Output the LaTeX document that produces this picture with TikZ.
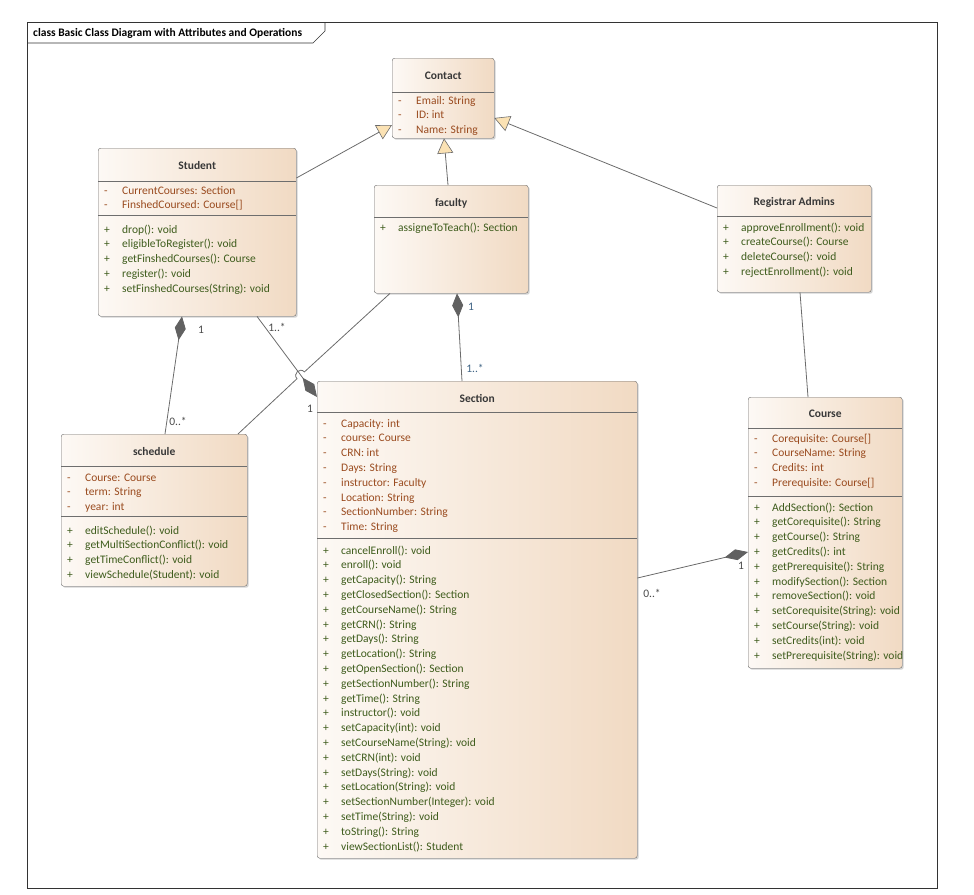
\documentclass[tikz,border=0pt]{standalone}
\usepackage{fontspec}
\setmainfont{Carlito}
\usetikzlibrary{arrows.meta,shadows}

\definecolor{boxleft}{HTML}{FDF9F5}
\definecolor{boxright}{HTML}{F1DAC3}
\definecolor{boxline}{HTML}{6E6E6E}
\definecolor{attrtext}{HTML}{9A4B1F}
\definecolor{optext}{HTML}{3E5C1C}
\definecolor{linkline}{HTML}{6B6B6B}
\definecolor{tipfill}{HTML}{FBE2B4}
\definecolor{multtext}{HTML}{4A4A4A}
\definecolor{multblue}{HTML}{3F6384}

% one compartment of a class: name, position, colour, rows
\newcommand\members[4]{\node[members, text=#3] (#1) at (#2) {\begin{tabular}[t]{@{}p{18pt}@{}l@{}}#4\end{tabular}};}

\begin{document}
\begin{tikzpicture}[
    x			= 1pt,
    y			= -1pt,
    classbox/.style	= {draw=boxline, rounded corners=2.5pt, left color=boxleft, right color=boxright,
                           anchor=north west, inner sep=0pt,
                           drop shadow={shadow xshift=1.5pt, shadow yshift=-1.5pt, opacity=0.35}},
    classname/.style	= {font=\fontsize{11.5}{13}\selectfont\bfseries, text=black!78, anchor=base, inner sep=0pt},
    members/.style	= {font=\fontsize{11.5}{14.8}\selectfont, anchor=base west, inner sep=0pt, xshift=6pt},
    sepline/.style	= {draw=boxline, line width=0.6pt},
    link/.style		= {draw=linkline, line width=0.8pt},
    gen/.style		= {link, -{Triangle[length=15pt, width=16pt, fill=tipfill, line width=0.6pt]}},
    comp/.style		= {link, -{Diamond[length=24pt, width=11pt, fill=black!62, color=black!62]}},
    compr/.style	= {link, {Diamond[length=24pt, width=11pt, fill=black!62, color=black!62]}-},
    mult/.style		= {font=\fontsize{11.5}{13}\selectfont, text=multtext, inner sep=0pt}
  ]
\useasboundingbox (0,0) rectangle (974,894);
% frame
\draw[black!80, line width=0.6pt] (27,22) rectangle (937,888);
\draw[black!80, line width=0.6pt] (27,43) -- (313,43) -- (325,31) -- (325,22);
\node[font=\fontsize{11.5}{13}\selectfont\bfseries, anchor=base west, inner sep=0pt] (frametitle) at (33,36)
  {class Basic Class Diagram with Attributes and Operations};
%
% Contact
\node[classbox, minimum width=102pt, minimum height=80pt] (contact) at (392,58) {};
\draw[sepline] (contact.west |- 0,92) -- (contact.east |- 0,92);
\node[classname] (contact-name) at (contact.north |- 0,79) {Contact};
\members{contact-attr}{contact.west |- 0,104}{attrtext}{-&Email: String\\ -&ID: int\\ -&Name: String}
%
% Student
\node[classbox, minimum width=198pt, minimum height=168pt] (student) at (98,148) {};
\draw[sepline] (student.west |- 0,181) -- (student.east |- 0,181);
\draw[sepline] (student.west |- 0,215) -- (student.east |- 0,215);
\node[classname] (student-name) at (student.north |- 0,169) {Student};
\members{student-attr}{student.west |- 0,194}{attrtext}{-&CurrentCourses: Section\\ -&FinshedCoursed: Course[]}
\members{student-ops}{student.west |- 0,233}{optext}{+&drop(): void\\ +&eligibleToRegister(): void\\
  +&getFinshedCourses(): Course\\ +&register(): void\\ +&setFinshedCourses(String): void}
%
% faculty
\node[classbox, minimum width=154pt, minimum height=108pt] (faculty) at (374,185) {};
\draw[sepline] (faculty.west |- 0,217) -- (faculty.east |- 0,217);
\node[classname] (faculty-name) at (faculty.north |- 0,206) {faculty};
\members{faculty-ops}{faculty.west |- 0,231}{optext}{+&assigneToTeach(): Section}
%
% Registrar Admins
\node[classbox, minimum width=154pt, minimum height=107pt] (registrar) at (717,185) {};
\draw[sepline] (registrar.west |- 0,216) -- (registrar.east |- 0,216);
\node[classname] (registrar-name) at (registrar.north |- 0,205) {Registrar Admins};
\members{registrar-ops}{registrar.west |- 0,231}{optext}{+&approveEnrollment(): void\\ +&createCourse(): Course\\
  +&deleteCourse(): void\\ +&rejectEnrollment(): void}
%
% schedule
\node[classbox, minimum width=186pt, minimum height=152pt] (schedule) at (61,434) {};
\draw[sepline] (schedule.west |- 0,466) -- (schedule.east |- 0,466);
\draw[sepline] (schedule.west |- 0,516) -- (schedule.east |- 0,516);
\node[classname] (schedule-name) at (schedule.north |- 0,455) {schedule};
\members{schedule-attr}{schedule.west |- 0,481}{attrtext}{-&Course: Course\\ -&term: String\\ -&year: int}
\members{schedule-ops}{schedule.west |- 0,534}{optext}{+&editSchedule(): void\\ +&getMultiSectionConflict(): void\\
  +&getTimeConflict(): void\\ +&viewSchedule(Student): void}
%
% Section
\node[classbox, minimum width=320pt, minimum height=477pt] (section) at (317,381) {};
\draw[sepline] (section.west |- 0,412) -- (section.east |- 0,412);
\draw[sepline] (section.west |- 0,538) -- (section.east |- 0,538);
\node[classname] (section-name) at (section.north |- 0,402) {Section};
\members{section-attr}{section.west |- 0,427}{attrtext}{-&Capacity: int\\ -&course: Course\\ -&CRN: int\\
  -&Days: String\\ -&instructor: Faculty\\ -&Location: String\\ -&SectionNumber: String\\ -&Time: String}
\members{section-ops}{section.west |- 0,554}{optext}{+&cancelEnroll(): void\\ +&enroll(): void\\
  +&getCapacity(): String\\ +&getClosedSection(): Section\\ +&getCourseName(): String\\ +&getCRN(): String\\
  +&getDays(): String\\ +&getLocation(): String\\ +&getOpenSection(): Section\\ +&getSectionNumber(): String\\
  +&getTime(): String\\ +&instructor(): void\\ +&setCapacity(int): void\\ +&setCourseName(String): void\\
  +&setCRN(int): void\\ +&setDays(String): void\\ +&setLocation(String): void\\
  +&setSectionNumber(Integer): void\\ +&setTime(String): void\\ +&toString(): String\\
  +&viewSectionList(): Student}
%
% Course
\node[classbox, minimum width=154pt, minimum height=271pt] (course) at (748,397) {};
\draw[sepline] (course.west |- 0,428) -- (course.east |- 0,428);
\draw[sepline] (course.west |- 0,496) -- (course.east |- 0,496);
\node[classname] (course-name) at (course.north |- 0,417) {Course};
\members{course-attr}{course.west |- 0,442}{attrtext}{-&Corequisite: Course[]\\ -&CourseName: String\\
  -&Credits: int\\ -&Prerequisite: Course[]}
\members{course-ops}{course.west |- 0,511}{optext}{+&AddSection(): Section\\ +&getCorequisite(): String\\
  +&getCourse(): String\\ +&getCredits(): int\\ +&getPrerequisite(): String\\ +&modifySection(): Section\\
  +&removeSection(): void\\ +&setCorequisite(String): void\\ +&setCourse(String): void\\
  +&setCredits(int): void\\ +&setPrerequisite(String): void}
%
% generalisations
\draw[gen] (student.east |- 0,178) -- (contact.west |- 0,125);
\draw[gen] (faculty.north -| 448,0) -- (contact.south -| 444,0);
\draw[gen] (registrar.west |- 0,208) -- (contact.east |- 0,118);
% compositions
\draw[compr] (student.south -| 182,0) -- (schedule.north -| 165,0);
\draw[comp] (student.south -| 257,0) -- (section.west |- 0,397);
\draw[compr] (faculty.south -| 457,0) -- (section.north -| 462,0);
\draw[comp] (section.east |- 0,578) -- (course.west |- 0,552);
% plain associations
\coordinate (hopa) at (304.4,371.9);
\coordinate (hopb) at (297.0,378.7);
\draw[link] (faculty.south -| 390,0) -- (hopa) .. controls (299.9,367.0) and (292.5,373.8) .. (hopb)
  -- (schedule.north -| 238,0);
\draw[link] (registrar.south -| 800,0) -- (course.north -| 808,0);
% multiplicities
\node[mult] (m-st1) at (201,330) {1};
\node[mult] (m-sc) at (178,421) {0..*};
\node[mult] (m-st2) at (277,327) {1..*};
\node[mult] (m-se1) at (310,409) {1};
\node[mult, text=multblue] (m-fa) at (471,307) {1};
\node[mult, text=multblue] (m-se2) at (475,368) {1..*};
\node[mult] (m-co) at (741,566) {1};
\node[mult] (m-se3) at (652,593) {0..*};
%
\end{tikzpicture}
\end{document}
